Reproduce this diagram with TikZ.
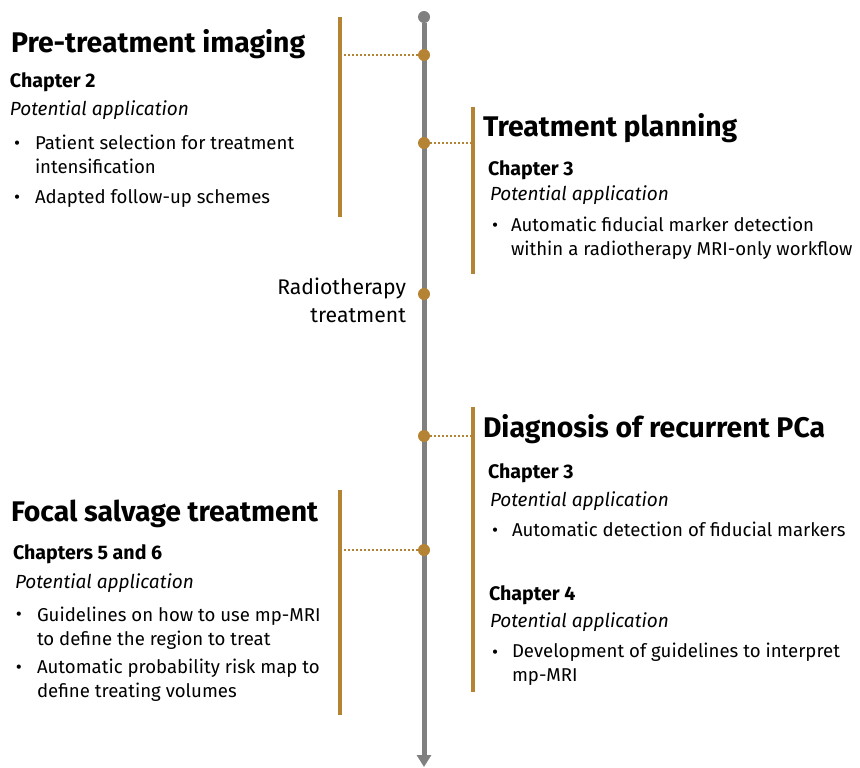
\documentclass[tikz,border=0pt]{standalone}
\usepackage{fontspec}
\setmainfont{Fira Sans}
\usetikzlibrary{positioning,arrows.meta}
\definecolor{gold}{RGB}{180,131,52}
\definecolor{axisgray}{RGB}{128,128,128}

\begin{document}
\begin{tikzpicture}[x=0.5pt,y=-0.5pt,
    every node/.style={inner sep=0pt,outer sep=0pt},
    phase/.style={anchor=base west,font=\fontsize{14.2}{16}\selectfont\bfseries},
    chapter/.style={anchor=base west,font=\fontsize{9.8}{11.5}\selectfont\bfseries},
    appl/.style={anchor=base west,font=\fontsize{9.5}{11.5}\selectfont\itshape},
    itemtext/.style={anchor=base west,align=left,font=\fontsize{9.3}{11.75}\selectfont},
    bulletmark/.style={anchor=base west,font=\fontsize{9.3}{11.5}\selectfont},
    event/.style={circle,fill=gold,minimum size=6pt},
    bar/.style={gold,line width=2pt},
    link/.style={gold,densely dotted,line width=1pt}]
        \useasboundingbox (0,0) rectangle (860,767);

        % time axis
        \node[circle,fill=axisgray,minimum size=6pt] (start) at (424,17) {};
        \coordinate (end) at (424,767);
        \draw[axisgray, line width=2.5pt, -{Triangle[length=6pt,width=7pt]}] (start) -- (end);

        \node[event] (dotpre) at (424,55) {};
        \node[event] (dotplan) at (424,143) {};
        \node[event] (dotradio) at (424,294) {};
        \node[event] (dotdiag) at (424,436) {};
        \node[event] (dotsalv) at (424,550) {};

        % bars
        \coordinate (barpre) at (340,55);
        \coordinate (barplan) at (473,143);
        \coordinate (bardiag) at (473,436);
        \coordinate (barsalv) at (340,550);
        \draw[bar] (340,17) -- (340,217);
        \draw[bar] (473,107) -- (473,274);
        \draw[bar] (473,407) -- (473,692);
        \draw[bar] (340,490) -- (340,715);

        \draw[link] (barpre) -- (dotpre);
        \draw[link] (dotplan) -- (barplan);
        \draw[link] (dotdiag) -- (bardiag);
        \draw[link] (barsalv) -- (dotsalv);

        % pre-treatment imaging (multi-line nodes sit on their last line)
        \node[phase] (pretitle) at (11,52) {Pre-treatment imaging};
        \node[chapter] (prechap) at (10,87) {Chapter 2};
        \node[appl] (preappl) at (10,115) {Potential application};
        \node[bulletmark] (premarka) at (14,149) {\textbullet};
        \node[itemtext] (preitema) at (35,173) {Patient selection for treatment\\intensification};
        \node[bulletmark] (premarkb) at (14,203) {\textbullet};
        \node[itemtext] (preitemb) at (35,203) {Adapted follow-up schemes};

        % treatment planning
        \node[phase] (plantitle) at (483,136) {Treatment planning};
        \node[chapter] (planchap) at (488,175) {Chapter 3};
        \node[appl] (planappl) at (490,200) {Potential application};
        \node[bulletmark] (planmark) at (492,231) {\textbullet};
        \node[itemtext] (planitem) at (511,255) {Automatic fiducial marker detection\\within a radiotherapy MRI-only workflow};

        % radiotherapy
        \node[itemtext, anchor=base east, align=right, font=\fontsize{10.6}{14}\selectfont] (radio) at (406,322) {Radiotherapy\\treatment};

        % diagnosis of recurrent PCa
        \node[phase] (diagtitle) at (483,437) {Diagnosis of recurrent PCa};
        \node[chapter] (diagchapa) at (488,478) {Chapter 3};
        \node[appl] (diagappla) at (490,506) {Potential application};
        \node[bulletmark] (diagmarka) at (492,536) {\textbullet};
        \node[itemtext] (diagitema) at (512,536) {Automatic detection of fiducial markers};
        \node[chapter] (diagchapb) at (489,600) {Chapter 4};
        \node[appl] (diagapplb) at (490,627) {Potential application};
        \node[bulletmark] (diagmarkb) at (492,658) {\textbullet};
        \node[itemtext] (diagitemb) at (512,681) {Development of guidelines to interpret\\mp-MRI};

        % focal salvage treatment
        \node[phase] (salvtitle) at (11,521) {Focal salvage treatment};
        \node[chapter] (salvchap) at (13,559) {Chapters 5 and 6};
        \node[appl] (salvappl) at (15,588) {Potential application};
        \node[bulletmark] (salvmarka) at (16,620) {\textbullet};
        \node[itemtext] (salvitema) at (37,645) {Guidelines on how to use mp-MRI\\to define the region to treat};
        \node[bulletmark] (salvmarkb) at (16,673) {\textbullet};
        \node[itemtext] (salvitemb) at (37,697) {Automatic probability risk map to\\define treating volumes};
    \end{tikzpicture}
\end{document}
